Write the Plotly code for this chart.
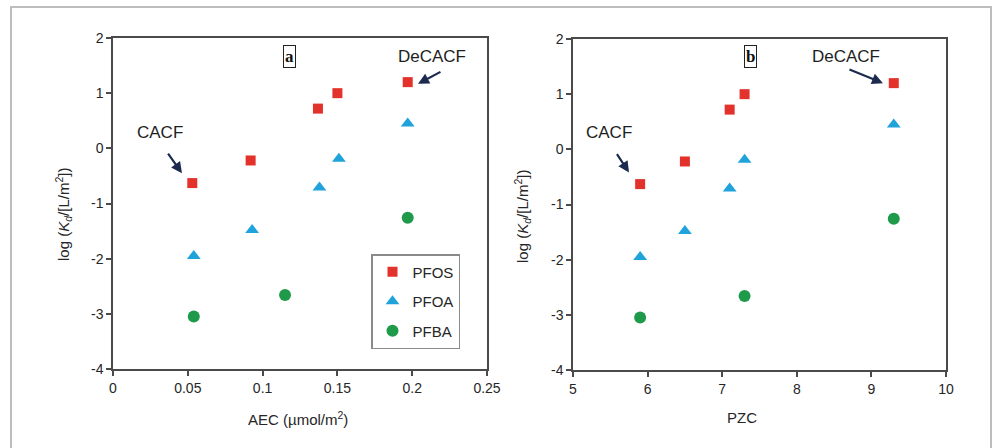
import plotly.graph_objects as go

# ---------------- data ----------------
aec_pfos = [0.053, 0.092, 0.137, 0.150, 0.197]
aec_pfoa = [0.054, 0.093, 0.138, 0.151, 0.197]
aec_pfba = [0.054, 0.115, 0.197]

pzc_pfos = [5.9, 6.5, 7.1, 7.3, 9.3]
pzc_pfoa = [5.9, 6.5, 7.1, 7.3, 9.3]
pzc_pfba = [5.9, 7.3, 9.3]

logkd_pfos = [-0.63, -0.22, 0.72, 1.0, 1.2]
logkd_pfoa = [-1.95, -1.48, -0.71, -0.19, 0.45]
logkd_pfba = [-3.05, -2.66, -1.26]

y_ticks = [-4, -3, -2, -1, 0, 1, 2]
y_tick_text = ["-4", "-3", "-2", "-1", "0", "1", "2"]
aec_ticks = [0, 0.05, 0.1, 0.15, 0.2, 0.25]
aec_tick_text = ["0", "0.05", "0.1", "0.15", "0.2", "0.25"]
pzc_ticks = [5, 6, 7, 8, 9, 10]
pzc_tick_text = ["5", "6", "7", "8", "9", "10"]

series_names = ["PFOS", "PFOA", "PFBA"]
# --------------------------------------

W, H = 993, 448
FONT = "Liberation Sans, Arial, sans-serif"
RED = "#e3312b"
BLUE = "#1fa3da"
GREEN = "#1f9a4b"
NAVY = "#1c2a4f"
AX = "#4a4a4a"
TXT = "#262626"

fig = go.Figure()

styles = [("square", RED, 10), ("triangle-up", BLUE, 12), ("circle", GREEN, 12)]
panel_a = [(aec_pfos, logkd_pfos), (aec_pfoa, logkd_pfoa), (aec_pfba, logkd_pfba)]
panel_b = [(pzc_pfos, logkd_pfos), (pzc_pfoa, logkd_pfoa), (pzc_pfba, logkd_pfba)]

for i, ((xs, ys), (sym, col, sz)) in enumerate(zip(panel_a, styles)):
    fig.add_trace(go.Scatter(x=xs, y=ys, mode="markers", name=series_names[i],
                             legendgroup=series_names[i],
                             marker=dict(symbol=sym, color=col, size=sz),
                             xaxis="x", yaxis="y"))
for i, ((xs, ys), (sym, col, sz)) in enumerate(zip(panel_b, styles)):
    fig.add_trace(go.Scatter(x=xs, y=ys, mode="markers", name=series_names[i],
                             legendgroup=series_names[i], showlegend=False,
                             marker=dict(symbol=sym, color=col, size=sz),
                             xaxis="x2", yaxis="y2"))

def px_x(p):
    return p / W

def px_y(p):
    return 1 - p / H

axis_common = dict(showline=True, linecolor=AX, linewidth=1.5, mirror=True,
                   ticks="outside", ticklen=5, tickcolor=AX, tickwidth=1.5,
                   showgrid=False, zeroline=False, automargin=False,
                   tickfont=dict(family=FONT, size=14, color=TXT))

fig.update_layout(
    width=W, height=H,
    margin=dict(l=0, r=0, t=0, b=0, autoexpand=False),
    paper_bgcolor="white", plot_bgcolor="white",
    font=dict(family=FONT, color=TXT),
    xaxis=dict(domain=[px_x(113), px_x(487)], range=[0, 0.25],
               tickvals=aec_ticks, ticktext=aec_tick_text, anchor="y", **axis_common),
    yaxis=dict(domain=[px_y(369), px_y(38)], range=[-4, 2],
               tickvals=y_ticks, ticktext=y_tick_text, anchor="x", **axis_common),
    xaxis2=dict(domain=[px_x(573), px_x(946)], range=[5, 10],
                tickvals=pzc_ticks, ticktext=pzc_tick_text, anchor="y2", **axis_common),
    yaxis2=dict(domain=[px_y(370), px_y(39)], range=[-4, 2],
                tickvals=y_ticks, ticktext=y_tick_text, anchor="x2", **axis_common),
    showlegend=True,
    legend=dict(x=px_x(460), y=px_y(254), xanchor="right", yanchor="top",
                bordercolor="#8a8a8a", borderwidth=1.5, bgcolor="white",
                font=dict(family=FONT, size=15, color=TXT),
                tracegroupgap=7, itemwidth=30),
)

# Outer frame
fig.add_shape(type="rect", xref="paper", yref="paper",
              x0=px_x(11), x1=px_x(991), y0=px_y(470), y1=px_y(7),
              line=dict(color="#bdbdbd", width=2))

ann = []
# axis titles
ann.append(dict(text="AEC (µmol/m<sup>2</sup>)", x=px_x(298), y=px_y(418)))
ann.append(dict(text="PZC", x=px_x(742), y=px_y(417)))
ann.append(dict(text="log (<i>K</i><sub><i>d</i></sub>/[L/m<sup>2</sup>])",
                x=px_x(63), y=px_y(215), textangle=-90))
ann.append(dict(text="log (<i>K</i><sub><i>d</i></sub>/[L/m<sup>2</sup>])",
                x=px_x(522), y=px_y(217), textangle=-90))
for a in ann:
    a.update(xref="paper", yref="paper", showarrow=False,
             xanchor="center", yanchor="middle",
             font=dict(family=FONT, size=15, color=TXT))
    fig.add_annotation(**a)

# labels
def label(text, x, y, xr, yr):
    fig.add_annotation(text=text, x=x, y=y, xref=xr, yref=yr, showarrow=False,
                       font=dict(family=FONT, size=17, color="#1e1e1e"))

def arrow(x0, y0, x1, y1, xr, yr):
    fig.add_annotation(text="", x=x1, y=y1, ax=x0, ay=y0, xref=xr, yref=yr,
                       axref=xr, ayref=yr, showarrow=True, arrowhead=2,
                       arrowsize=1, arrowwidth=2.2, arrowcolor=NAVY)

label("CACF", 0.0314, 0.28, "x", "y")
arrow(0.0361, -0.07, 0.0461, -0.45, "x", "y")
label("DeCACF", 0.2132, 1.67, "x", "y")
arrow(0.2199, 1.40, 0.2039, 1.17, "x", "y")

label("CACF", 5.489, 0.30, "x2", "y2")
arrow(5.576, -0.06, 5.751, -0.42, "x2", "y2")
label("DeCACF", 8.66, 1.69, "x2", "y2")
arrow(8.686, 1.46, 9.155, 1.20, "x2", "y2")

# panel letters in boxes
for t, x, y, xr, yr in [("a", 0.1183, 1.67, "x", "y"), ("b", 7.373, 1.69, "x2", "y2")]:
    fig.add_annotation(text="<b>" + t + "</b>", x=x, y=y, xref=xr, yref=yr,
                       showarrow=False, bordercolor="#222222", borderwidth=1,
                       borderpad=1, bgcolor="white",
                       font=dict(family="Liberation Serif, Times New Roman, serif",
                                 size=17, color="#111111"))

fig.write_html("out.html", config={"displayModeBar": False},
               post_script="document.body.style.margin='0';document.body.style.overflow='hidden';")
